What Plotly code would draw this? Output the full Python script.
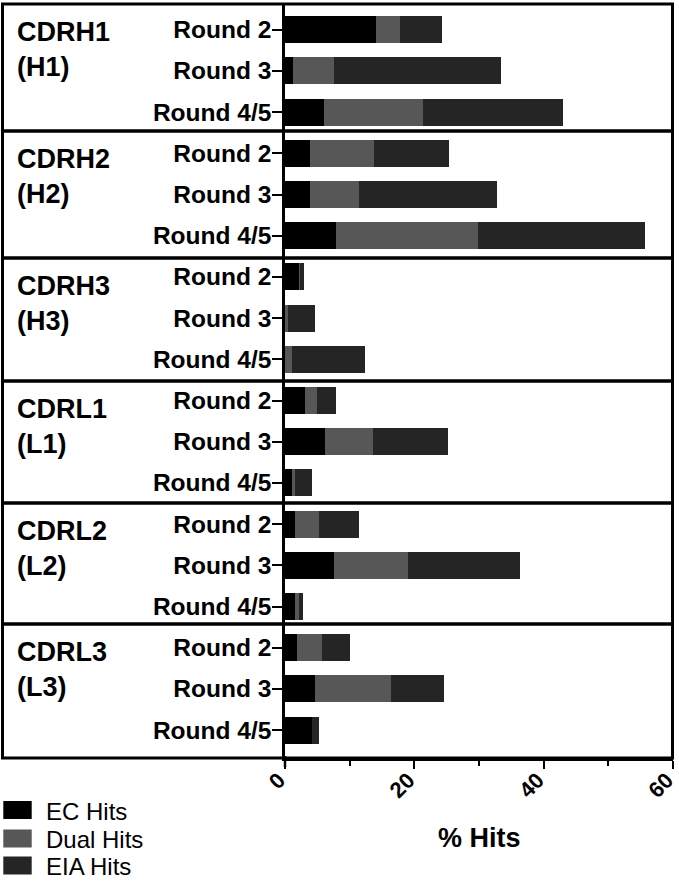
import plotly.graph_objects as go

# ---------------- data ----------------
groups = ["CDRH1<br>(H1)", "CDRH2<br>(H2)", "CDRH3<br>(H3)",
          "CDRL1<br>(L1)", "CDRL2<br>(L2)", "CDRL3<br>(L3)"]
rounds = ["Round 2", "Round 3", "Round 4/5"]

series_names = ["EC Hits", "Dual Hits", "EIA Hits"]
series_colors = ["#000000", "#575757", "#252525"]

# segment lengths (% hits), order: H1 R2,R3,R4/5, H2 ..., L3 ...
ec_hits = [14.0, 1.2, 6.1,
           3.9, 3.8, 7.9,
           2.2, 0.0, 0.0,
           3.1, 6.2, 1.1,
           1.5, 7.6, 1.6,
           1.9, 4.7, 4.1]
dual_hits = [3.8, 6.3, 15.3,
             9.9, 7.6, 22.0,
             0.1, 0.5, 1.1,
             1.8, 7.4, 0.4,
             3.7, 11.4, 0.6,
             3.8, 11.7, 0.0]
eia_hits = [6.5, 25.9, 21.6,
            11.6, 21.4, 25.8,
            0.7, 4.2, 11.2,
            3.0, 11.6, 2.6,
            6.3, 17.3, 0.6,
            4.3, 8.2, 1.1]

x_ticks = [0, 20, 40, 60]
x_minor_ticks = [10, 30, 50]
x_title = "% Hits"

# ---------------- figure ----------------
row_labels = [r for _ in groups for r in rounds]
positions = list(range(len(row_labels)))

fig = go.Figure()
for name, color, vals in zip(series_names, series_colors, [ec_hits, dual_hits, eia_hits]):
    fig.add_trace(go.Bar(
        y=positions, x=vals, orientation="h", name=name,
        marker=dict(color=color, line=dict(width=0)),
        width=0.655, showlegend=False,
    ))

FONT = "Arial, Liberation Sans, sans-serif"

W, H = 679, 883
ML, MR, MT, MB = 285, 6, 3, 125
plot_w = W - ML - MR
plot_h = H - MT - MB


def px_x(px):
    return (px - ML) / plot_w


def px_y(py):
    return (H - MB - py) / plot_h


shapes = []
annotations = []

# group boxes
box_edges = [4, 131, 258, 381, 503, 624, 758]
for i, g in enumerate(groups):
    shapes.append(dict(type="rect", xref="paper", yref="paper",
                       x0=px_x(2.5), x1=px_x(672.5),
                       y0=px_y(box_edges[i + 1]), y1=px_y(box_edges[i]),
                       line=dict(color="black", width=3), layer="above"))
    annotations.append(dict(text="<b>" + g + "</b>", xref="paper", yref="paper",
                            x=px_x(15), y=px_y(box_edges[i] + 11),
                            xanchor="left", yanchor="top", align="left",
                            showarrow=False,
                            font=dict(family=FONT, size=27, color="black")))

# y-axis line continues slightly below the x axis
shapes.append(dict(type="line", xref="paper", yref="paper",
                   x0=0, x1=0, y0=px_y(756), y1=px_y(767),
                   line=dict(color="black", width=2.5)))

# custom legend
leg_centers = [810, 838.5, 865.5]
for name, color, cy in zip(series_names, series_colors, leg_centers):
    shapes.append(dict(type="rect", xref="paper", yref="paper",
                       x0=px_x(3.3), x1=px_x(31.7),
                       y0=px_y(cy + 9), y1=px_y(cy - 9),
                       fillcolor=color, line=dict(width=0)))
    annotations.append(dict(text=name, xref="paper", yref="paper",
                            x=px_x(44), y=px_y(cy + 1),
                            xanchor="left", yanchor="middle", showarrow=False,
                            font=dict(family=FONT, size=24, color="black")))

# axis title
annotations.append(dict(text="<b>" + x_title + "</b>", xref="paper", yref="paper",
                        x=0.5, y=px_y(838), xanchor="center", yanchor="middle",
                        showarrow=False,
                        font=dict(family=FONT, size=27, color="black")))

fig.update_layout(
    width=W, height=H,
    margin=dict(l=ML, r=MR, t=MT, b=MB, autoexpand=False),
    barmode="stack",
    plot_bgcolor="white", paper_bgcolor="white",
    font=dict(family=FONT, color="black"),
    shapes=shapes, annotations=annotations,
    showlegend=False,
)

fig.update_xaxes(
    range=[0, 60], tickvals=x_ticks, ticktext=["<b>%d</b>" % v for v in x_ticks],
    tickangle=-45, tickfont=dict(family=FONT, size=22, color="black"),
    ticklabeloverflow="allow", ticklabelstandoff=-10, ticklabelshift=-6,
    showline=True, linecolor="black", linewidth=2.5,
    ticks="outside", ticklen=8, tickwidth=2, tickcolor="black",
    minor=dict(tickvals=x_minor_ticks, ticks="outside", ticklen=5, tickwidth=2, tickcolor="black"),
    showgrid=False, zeroline=False, fixedrange=True, automargin=False,
)

fig.update_yaxes(
    range=[17.677, -0.648], tickvals=positions,
    ticktext=["<b>" + r + "</b>" for r in row_labels],
    tickfont=dict(family=FONT, size=24.5, color="black"),
    ticklabelstandoff=-4,
    showline=True, linecolor="black", linewidth=2.5,
    ticks="outside", ticklen=10, tickwidth=2, tickcolor="black",
    showgrid=False, zeroline=False, fixedrange=True, automargin=False,
)

fig.write_html("out.html", config={"displayModeBar": False},
               post_script="document.body.style.margin='0';document.body.style.overflow='hidden';")
